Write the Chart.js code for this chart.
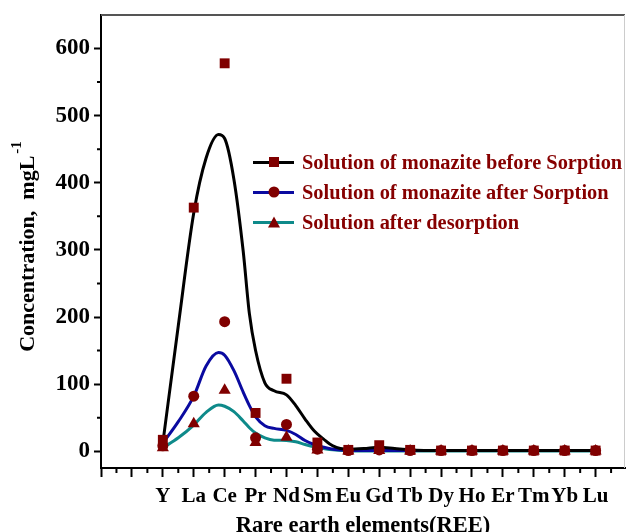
<!DOCTYPE html>
<html>
<head>
<meta charset="utf-8">
<script src="https://cdn.jsdelivr.net/npm/chart.js@4.4.1/dist/chart.umd.min.js"></script>
<style>
  html, body { margin: 0; padding: 0; background: #fff; overflow: hidden; }
  #wrap { position: relative; width: 626px; height: 532px; overflow: hidden; }
  #legend { position: absolute; left: 253px; top: 147px; font-family: 'Liberation Serif', serif; font-weight: bold; font-size: 20.4px; color: #860000; }
  .row { display: flex; align-items: center; height: 30.3px; white-space: nowrap; }
  .key { position: relative; width: 41px; height: 3px; margin-right: 8px; }
  .mk { position: absolute; left: 50%; top: 50%; transform: translate(-50%, -50%); }
  .sq { width: 10px; height: 10px; background: #800000; }
  .ci { width: 11px; height: 11px; border-radius: 50%; background: #800000; }
  .tr { width: 0; height: 0; border-left: 6px solid transparent; border-right: 6px solid transparent; border-bottom: 11px solid #800000; transform: translate(-50%, -60%); }
</style>
</head>
<body>
<div id="wrap">
  <canvas id="grafico" width="632" height="545"></canvas>
  <div id="legend">
    <div class="row"><span class="key" style="background:#000"><span class="mk sq"></span></span>Solution of monazite before Sorption</div>
    <div class="row"><span class="key" style="background:#0a0aa0"><span class="mk ci"></span></span>Solution of monazite after Sorption</div>
    <div class="row"><span class="key" style="background:#0e8a8a"><span class="mk tr"></span></span>Solution after desorption</div>
  </div>
</div>
<script>
const categories = ['Y', 'La', 'Ce', 'Pr', 'Nd', 'Sm', 'Eu', 'Gd', 'Tb', 'Dy', 'Ho', 'Er', 'Tm', 'Yb', 'Lu'];

// measured points
const beforeSorption  = [17, 363, 578, 57, 108, 13, 2, 9, 2, 1, 1, 1, 1, 1, 1];
const afterSorption   = [8, 82, 193, 20, 40, 3, 1, 2, 1, 1, 1, 1, 1, 1, 1];
const afterDesorption = [5, 41, 91, 13, 21, 2, 0.5, 1, 0.5, 0.5, 0.5, 0.5, 0.5, 0.5, 0.5];

// smoothed curves
const curveX      = [1, 1.5, 2, 2.4, 2.8, 3, 3.3, 3.6, 3.8, 4, 4.3, 4.6, 5, 5.3, 5.6, 5.9, 6.2, 6.5, 7, 7.5, 8, 8.5, 9, 10, 11, 12, 13, 14, 15];
const beforeCurve = [12, 187, 355, 437, 472, 466, 405, 298, 205, 150, 102, 90, 84, 68, 48, 30, 18, 8, 3, 4, 6, 4, 2, 1, 1, 1, 1, 1, 1];
const afterCurve  = [12, 44, 82, 127, 147, 143, 120, 88, 68, 51, 38, 34, 31, 25, 16, 10, 6, 3, 1.5, 1, 1, 1, 1, 1, 1, 1, 1, 1, 1];
const desorbCurve = [5, 20, 39, 58, 69, 67, 59, 45, 35, 27, 20, 16.5, 16, 14, 10, 6.5, 4, 2, 0.8, 0.5, 0.5, 0.5, 0.5, 0.5, 0.5, 0.5, 0.5, 0.5, 0.5];

const yTicks = [0, 100, 200, 300, 400, 500, 600];
const xTicks = [-1, 0, 1, 2, 3, 4, 5, 6, 7, 8, 9, 10, 11, 12, 13, 14, 15];

const FONT = "'Liberation Serif', 'Times New Roman', serif";
const MARK = '#800000';

const pts = ys => ys.map((y, i) => ({ x: i + 1, y }));
const crv = ys => ys.map((y, i) => ({ x: curveX[i], y }));

function puntiDs(data, style, r) {
    return { type: 'line', data: pts(data), showLine: false, pointStyle: style, pointRadius: r,
             backgroundColor: MARK, borderColor: MARK, borderWidth: 0, order: 0 };
}
function curvaDs(data, color) {
    return { type: 'line', data: crv(data), borderColor: color, borderWidth: 3, pointRadius: 0,
             cubicInterpolationMode: 'monotone', fill: false, order: 1 };
}

const extras = {
    id: 'extras',
    afterDraw(chart) {
        const { ctx, chartArea: a, scales: { x, y } } = chart;
        ctx.save();
        // minor ticks
        ctx.strokeStyle = '#000'; ctx.lineWidth = 2;
        ctx.beginPath();
        for (let v = -0.5; v <= 15.5; v += 1) {
            const px = x.getPixelForValue(v);
            ctx.moveTo(px, a.bottom); ctx.lineTo(px, a.bottom + 5);
        }
        for (let v = 50; v <= 550; v += 100) {
            const py = y.getPixelForValue(v);
            ctx.moveTo(a.left, py); ctx.lineTo(a.left - 4, py);
        }
        ctx.stroke();
        // frame top / right
        ctx.strokeStyle = '#555'; ctx.lineWidth = 2;
        ctx.beginPath(); ctx.moveTo(a.left, a.top); ctx.lineTo(a.right, a.top); ctx.stroke();
        ctx.strokeStyle = '#ccc'; ctx.lineWidth = 1;
        ctx.beginPath(); ctx.moveTo(a.right - 0.5, a.top); ctx.lineTo(a.right - 0.5, a.bottom); ctx.stroke();
        // y title with superscript
        ctx.translate(34, (a.top + a.bottom) / 2 + 5);
        ctx.rotate(-Math.PI / 2);
        ctx.fillStyle = '#000';
        ctx.textBaseline = 'alphabetic';
        const main = 'Concentration,  mgL';
        const sup = '-1';
        ctx.font = 'bold 15px ' + FONT;
        const wSup = ctx.measureText(sup).width;
        ctx.font = 'bold 22px ' + FONT;
        const wMain = ctx.measureText(main).width;
        const x0 = -(wMain + wSup + 2) / 2;
        ctx.fillText(main, x0, 0);
        ctx.font = 'bold 15px ' + FONT;
        ctx.fillText(sup, x0 + wMain + 2, -13);
        ctx.restore();
    }
};

new Chart(document.getElementById('grafico'), {
    type: 'line',
    data: {
        datasets: [
            puntiDs(beforeSorption, 'rect', 7),
            puntiDs(afterSorption, 'circle', 5.5),
            puntiDs(afterDesorption, 'triangle', 7),
            curvaDs(beforeCurve, '#000000'),
            curvaDs(afterCurve, '#0a0aa0'),
            curvaDs(desorbCurve, '#0e8a8a')
        ]
    },
    options: {
        responsive: false,
        animation: false,
        devicePixelRatio: 1,
        layout: { padding: { top: 15, right: 1, left: 0, bottom: 0 } },
        plugins: { legend: { display: false }, tooltip: { enabled: false } },
        scales: {
            x: {
                type: 'linear', min: -1, max: 15.95,
                afterBuildTicks: s => { s.ticks = xTicks.map(v => ({ value: v })); },
                afterFit: s => { s.height = 77; s.paddingLeft = 0; s.paddingRight = 0; },
                ticks: { padding: 7, color: '#000', font: { family: FONT, size: 21, weight: 'bold' },
                         maxRotation: 0, autoSkip: false,
                         callback: v => categories[v - 1] || '' },
                grid: { drawOnChartArea: false, tickLength: 9, tickWidth: 2, tickColor: '#000' },
                border: { color: '#000', width: 2 },
                title: { display: true, text: 'Rare earth elements(REE)', color: '#000',
                         font: { family: FONT, size: 22.5, weight: 'bold' }, padding: { top: 0, bottom: 5 } }
            },
            y: {
                min: -25, max: 650,
                afterBuildTicks: s => { s.ticks = yTicks.map(v => ({ value: v })); },
                afterFit: s => { s.width = 101; s.paddingTop = 0; s.paddingBottom = 0; },
                ticks: { padding: 4, color: '#000', font: { family: FONT, size: 23, weight: 'bold' } },
                grid: { drawOnChartArea: false, tickLength: 7, tickWidth: 2, tickColor: '#000' },
                border: { color: '#000', width: 2 }
            }
        }
    },
    plugins: [extras]
});
</script>
</body>
</html>
